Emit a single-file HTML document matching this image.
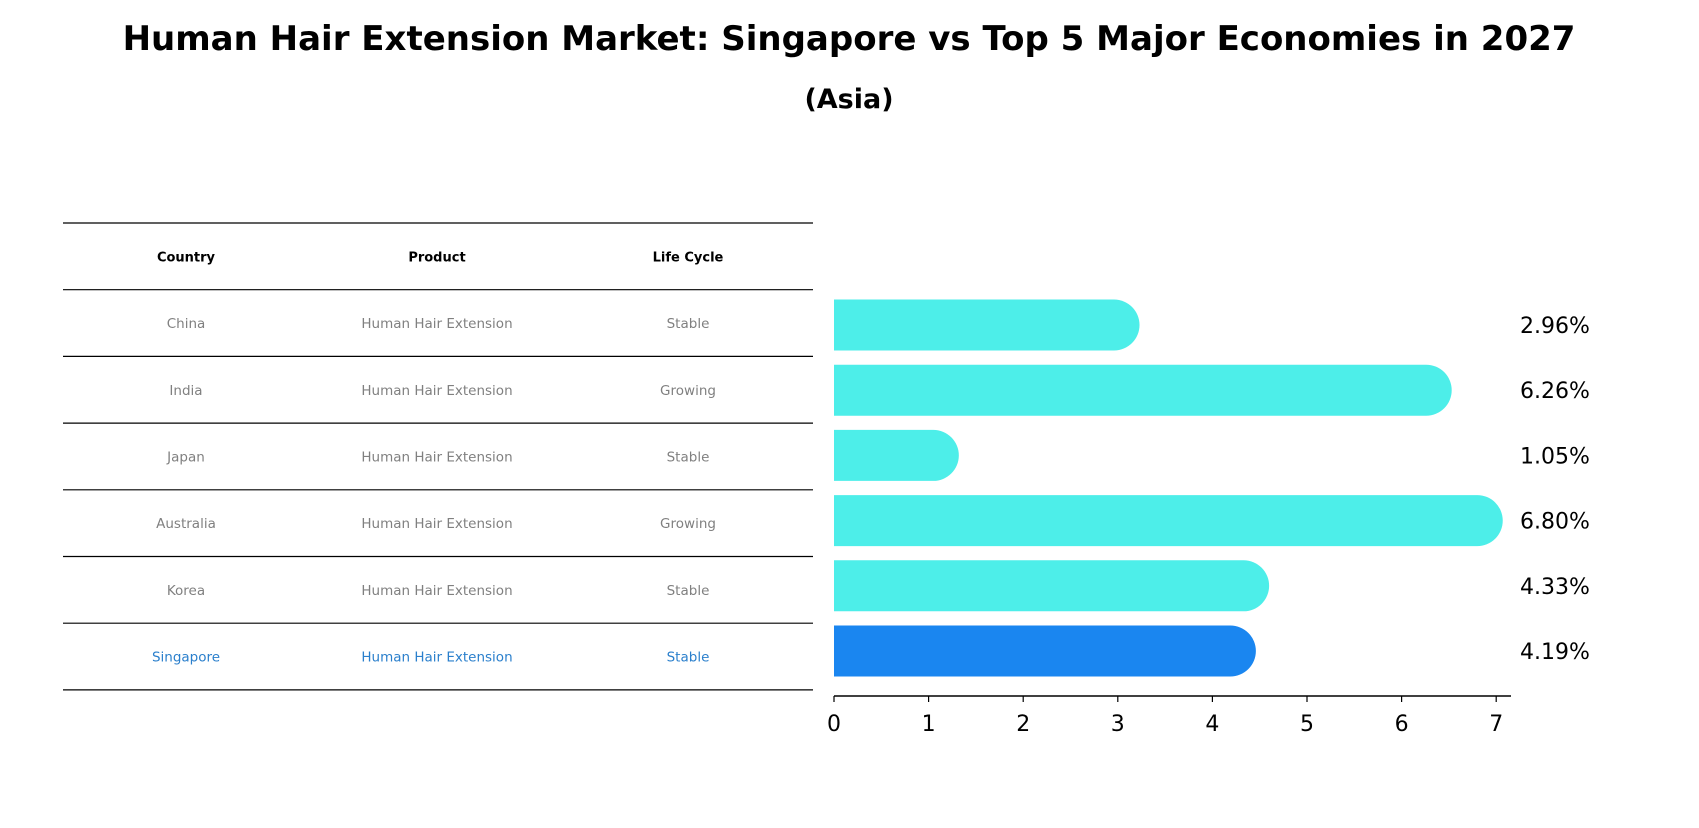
<!DOCTYPE html>
<html><head><meta charset="utf-8"><style>
html,body{margin:0;padding:0;background:#fff;}
body{width:1699px;height:823px;overflow:hidden;font-family:"Liberation Sans","DejaVu Sans",sans-serif;}
</style></head><body>
<svg id="chart" width="1699" height="823" xmlns="http://www.w3.org/2000/svg" font-family="'DejaVu Sans','Liberation Sans',sans-serif">
<text x="849" y="50" text-anchor="middle" font-size="34" font-weight="bold">Human Hair Extension Market: Singapore vs Top 5 Major Economies in 2027</text>
<text x="849" y="108" text-anchor="middle" font-size="27" font-weight="bold">(Asia)</text>
<g id="table"></g>
<g id="bars"></g>
</svg>
<script>
const countries = ["China","India","Japan","Australia","Korea","Singapore"];
const products = ["Human Hair Extension","Human Hair Extension","Human Hair Extension","Human Hair Extension","Human Hair Extension","Human Hair Extension"];
const lifeCycles = ["Stable","Growing","Stable","Growing","Stable","Stable"];
const values = [2.96,6.26,1.05,6.80,4.33,4.19];
const valueLabels = ["2.96%","6.26%","1.05%","6.80%","4.33%","4.19%"];
const xTicks = [0,1,2,3,4,5,6,7];

const NS="http://www.w3.org/2000/svg";
function mk(tag,attrs,parent){const e=document.createElementNS(NS,tag);for(const k in attrs)e.setAttribute(k,attrs[k]);parent.appendChild(e);return e;}
const table=document.getElementById('table');
const bars=document.getElementById('bars');
// table
const tTop=223,rowH=66.7,tX0=63,tX1=813,colX=[186,437,688];
for(let i=0;i<=7;i++){
  const y=tTop+i*rowH;
  const l=mk('line',{x1:tX0,x2:tX1,y1:y,y2:y,stroke:'#000','stroke-width':1.2},table);
  
  
}
const headers=["Country","Product","Life Cycle"];
headers.forEach((h,j)=>{
  const t=mk('text',{x:colX[j],y:tTop+rowH/2+5,'text-anchor':'middle','font-size':13,'font-weight':'bold'},table);
  t.textContent=h;
  
  
});
countries.forEach((c,i)=>{
  const y=tTop+(i+1)*rowH+rowH/2+5;
  const col=c==="Singapore"?'#2a7fcc':'#808080';
  [c,products[i],lifeCycles[i]].forEach((v,j)=>{
    const t=mk('text',{x:colX[j],y:y,'text-anchor':'middle','font-size':13.5,fill:col},table);
    t.textContent=v;
    
    
  });
});
// bar chart
const x0=834,unit=94.6,axisY=696,barH=51,rowC0=325,rowStep=65.2;
const xs=v=>x0+v*unit;
const ys=i=>rowC0+i*rowStep;
values.forEach((v,i)=>{
  const cy=ys(i),r=barH/2,xe=xs(v);
  const col=countries[i]==="Singapore"?'#1a86f0':'#4deee9';
  const p=mk('path',{d:`M${x0},${cy-r} L${xe},${cy-r} A${r},${r} 0 0 1 ${xe},${cy+r} L${x0},${cy+r} Z`,fill:col},bars);
  
  
  const t=mk('text',{x:1520,y:cy+8,'font-size':22},bars);
  t.textContent=valueLabels[i];
  
  
});
const ax=mk('line',{x1:x0,x2:1511,y1:axisY,y2:axisY,stroke:'#000','stroke-width':1.5},bars);


xTicks.forEach(v=>{
  const tk=mk('line',{x1:xs(v),x2:xs(v),y1:axisY,y2:axisY+6,stroke:'#000','stroke-width':1.2},bars);
  
  
  const t=mk('text',{x:xs(v),y:axisY+35,'text-anchor':'middle','font-size':22},bars);
  t.textContent=v;
  
  
});
</script>
</body></html>
